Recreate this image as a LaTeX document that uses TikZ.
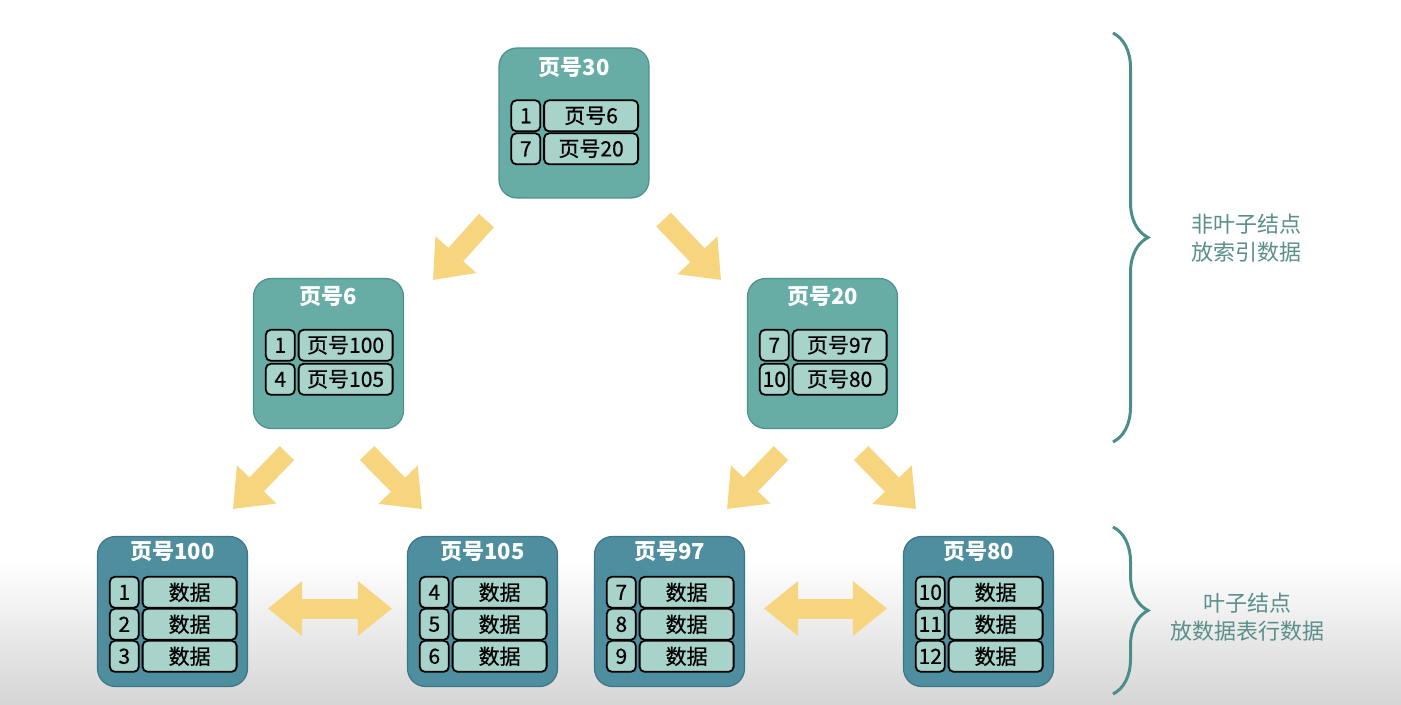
\documentclass[tikz,border=0pt]{standalone}
\usepackage{fontspec}
\setmainfont{Noto Sans CJK SC}
\newfontfamily\cellfont[FakeBold=0.6]{Noto Sans CJK SC}
\usetikzlibrary{positioning, calc, arrows.meta, decorations.pathreplacing}

\definecolor{upperfill}{HTML}{68ACA6}
\definecolor{upperedge}{HTML}{4E918C}
\definecolor{leaffill}{HTML}{4F8E9E}
\definecolor{leafedge}{HTML}{3D7686}
\definecolor{cellfill}{HTML}{A8D3CB}
\definecolor{arrowy}{HTML}{F7D47E}
\definecolor{bracecol}{HTML}{4A8E8A}
\definecolor{notecol}{HTML}{5A8F8B}
\definecolor{bggray}{HTML}{D5D5D5}

\tikzset{
  page/.style={rectangle, rounded corners=9pt, minimum width=75pt, minimum height=75pt, line width=0.6pt},
  upper/.style={page, fill=upperfill, draw=upperedge},
  leaf/.style={page, fill=leaffill, draw=leafedge},
  title/.style={text=white, font=\bfseries\fontsize{11}{13}\selectfont},
  cellbox/.style={rectangle, rounded corners=2.5pt, fill=cellfill, draw=black, line width=0.9pt,
    inner sep=0pt, minimum height=15.5pt, font=\cellfont\fontsize{10.5}{12}\selectfont},
  keycell/.style={cellbox, anchor=north west, minimum width=14.5pt},
  valcell/.style={cellbox, minimum width=47pt},
  fat/.style={draw=arrowy, line width=10pt, -{Triangle[length=17pt, width=27.5pt, line width=0pt]}},
  fatboth/.style={draw=arrowy, line width=10pt,
    {Triangle[length=17pt, width=27.5pt, line width=0pt]}-{Triangle[length=17pt, width=27.5pt, line width=0pt]}},
  bracket/.style={draw=bracecol, line width=1.5pt, decorate, decoration={brace, amplitude=17.5pt}},
  note/.style={text=notecol, align=center, font=\fontsize{11}{14}\selectfont}
}

% rows of a page: name, top offset, row step, key/value list
\newcommand{\pagerows}[4]{%
  \foreach \k/\v [count=\i] in {#4} {
    \node[keycell] (#1-k\i) at ($(#1.north west)+(12,{#2+#3*(\i-1)})$) {\k};
    \node[valcell, right=1pt of #1-k\i] (#1-v\i) {\v};
  }}

\begin{document}
\begin{tikzpicture}[x=0.5pt, y=-0.5pt]
  % background
  \useasboundingbox (0,0) rectangle (1401,705);
  \fill[white] (0,0) rectangle (1401,705);
  \shade[top color=white, bottom color=bggray] (0,560) rectangle (1401,705);

  % non-leaf pages
  \node[upper] (root) at (574,123) {};
  \node[upper] (ml) at (328.5,353.5) {};
  \node[upper] (mr) at (822.5,353.5) {};
  \node[title] at ($(root.north)+(0,20)$) {页号30};
  \node[title] at ($(ml.north)+(0,19)$) {页号6};
  \node[title] at ($(mr.north)+(0,19)$) {页号20};
  \pagerows{root}{52}{33}{1/页号6,7/页号20}
  \pagerows{ml}{51}{34}{1/页号100,4/页号105}
  \pagerows{mr}{51}{34}{7/页号97,10/页号80}

  % leaf pages
  \node[leaf] (l100) at (172.5,611.5) {};
  \node[leaf] (l105) at (482.5,611.5) {};
  \node[leaf] (l97) at (669.5,611.5) {};
  \node[leaf] (l80) at (978.5,611.5) {};
  \node[title] at ($(l100.north)+(0,16)$) {页号100};
  \node[title] at ($(l105.north)+(0,16)$) {页号105};
  \node[title] at ($(l97.north)+(0,16)$) {页号97};
  \node[title] at ($(l80.north)+(0,16)$) {页号80};
  \pagerows{l100}{40}{32}{1/数据,2/数据,3/数据}
  \pagerows{l105}{40}{32}{4/数据,5/数据,6/数据}
  \pagerows{l97}{40}{32}{7/数据,8/数据,9/数据}
  \pagerows{l80}{40}{32}{10/数据,11/数据,12/数据}

  % tree arrows
  \draw[fat] ($(root.south west)+(-12,22)$) -- ($(ml.north east)+(29,2)$);
  \draw[fat] ($(root.south east)+(14,21)$) -- ($(mr.north west)+(-26,2)$);
  \draw[fat] ($(ml.south west)+(34,24)$) -- ($(l100.north east)+(-15,-27)$);
  \draw[fat] ($(ml.south east)+(-37,24)$) -- ($(l105.north west)+(15,-27)$);
  \draw[fat] ($(mr.south west)+(34,24)$) -- ($(l97.north east)+(-18,-27)$);
  \draw[fat] ($(mr.south east)+(-37,24)$) -- ($(l80.north west)+(13,-27)$);

  % leaf links
  \draw[fatboth, shorten <=10pt, shorten >=7.5pt] ($(l100.east)+(0,-3)$) -- ($(l105.west)+(0,-3)$);
  \draw[fatboth, shorten <=9.5pt, shorten >=8pt] ($(l97.east)+(0,-3)$) -- ($(l80.west)+(0,-3)$);

  % braces and notes
  \draw[bracket] (1113,33) -- (1113,442);
  \draw[bracket] (1113,527) -- (1113,694);
  \node[note] (upnote) at (1246,238) {非叶子结点\\放索引数据};
  \node[note] (leafnote) at (1247,617.5) {叶子结点\\放数据表行数据};
\end{tikzpicture}
\end{document}
